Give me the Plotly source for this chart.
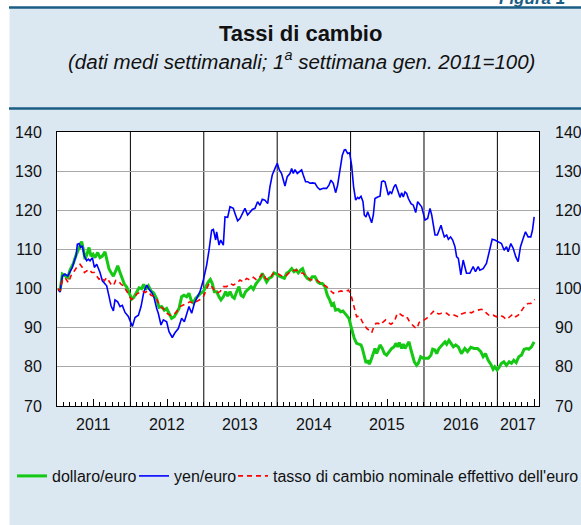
import plotly.graph_objects as go

# ---------------- data (weekly averages, 1st week Jan 2011 = 100) ----------------
# x values are decimal years
dollaro_euro = [
    (2011.018, 100.0), (2011.041, 99.4), (2011.073, 103.7), (2011.109, 103.2), (2011.146, 102.8),
    (2011.177, 104.7), (2011.223, 106.4), (2011.255, 108.3), (2011.282, 109.6), (2011.314, 110.9),
    (2011.336, 112.0), (2011.359, 110.0), (2011.382, 107.5), (2011.409, 108.8), (2011.436, 110.5),
    (2011.463, 108.3), (2011.491, 108.8), (2011.518, 107.9), (2011.554, 109.2), (2011.586, 107.9),
    (2011.618, 108.3), (2011.654, 109.4), (2011.681, 107.5), (2011.709, 105.0), (2011.736, 104.1),
    (2011.768, 103.2), (2011.800, 104.5), (2011.827, 105.8), (2011.859, 104.1), (2011.890, 102.4),
    (2011.918, 101.1), (2011.950, 100.4), (2011.981, 99.0),
    (2012.018, 97.3), (2012.045, 97.7), (2012.081, 98.9), (2012.118, 100.2), (2012.154, 100.0),
    (2012.181, 101.1), (2012.209, 99.8), (2012.245, 100.7), (2012.281, 99.4), (2012.318, 98.9),
    (2012.358, 97.4), (2012.390, 95.2), (2012.426, 95.4), (2012.462, 94.5), (2012.494, 94.9),
    (2012.526, 93.7), (2012.562, 92.4), (2012.598, 92.8), (2012.630, 93.7), (2012.662, 94.9),
    (2012.698, 97.9), (2012.730, 98.3), (2012.766, 97.9), (2012.798, 98.8), (2012.825, 97.2),
    (2012.857, 96.4), (2012.889, 97.5), (2012.925, 98.3), (2012.962, 98.9), (2012.994, 99.2),
    (2013.025, 100.5), (2013.062, 101.7), (2013.089, 102.3), (2013.116, 101.3), (2013.143, 99.2),
    (2013.175, 99.2), (2013.207, 97.9), (2013.234, 97.1), (2013.266, 97.9), (2013.298, 99.2),
    (2013.325, 98.1), (2013.357, 99.2), (2013.389, 97.9), (2013.416, 97.5), (2013.448, 99.2),
    (2013.480, 100.5), (2013.507, 98.3), (2013.538, 97.9), (2013.570, 99.2), (2013.607, 100.0),
    (2013.643, 100.5), (2013.675, 99.8), (2013.707, 101.1), (2013.743, 102.0), (2013.770, 102.6),
    (2013.797, 103.9), (2013.824, 103.0), (2013.856, 101.7), (2013.888, 102.6), (2013.924, 103.0),
    (2013.956, 104.0), (2013.992, 103.7),
    (2014.024, 103.2), (2014.060, 103.0), (2014.097, 102.6), (2014.128, 103.9), (2014.160, 104.3),
    (2014.197, 105.1), (2014.228, 104.3), (2014.260, 104.7), (2014.287, 104.0), (2014.319, 104.7),
    (2014.346, 105.1), (2014.378, 103.4), (2014.410, 102.6), (2014.446, 102.2), (2014.478, 103.0),
    (2014.515, 103.0), (2014.551, 101.7), (2014.583, 101.3), (2014.615, 101.3), (2014.650, 100.5),
    (2014.683, 98.3), (2014.715, 97.1), (2014.742, 95.8), (2014.769, 96.2), (2014.796, 94.5),
    (2014.832, 94.7), (2014.864, 94.1), (2014.896, 94.3), (2014.923, 93.7), (2014.950, 93.2),
    (2014.978, 92.4),
    (2015.000, 90.7), (2015.023, 89.0), (2015.050, 87.3), (2015.082, 86.0), (2015.114, 85.8),
    (2015.142, 85.6), (2015.160, 84.7), (2015.187, 82.6), (2015.210, 81.0), (2015.233, 81.7),
    (2015.255, 80.7), (2015.278, 81.7), (2015.310, 83.4), (2015.332, 84.7), (2015.355, 83.4),
    (2015.378, 84.7), (2015.401, 85.6), (2015.432, 84.7), (2015.460, 83.4), (2015.491, 83.0),
    (2015.523, 83.9), (2015.560, 84.7), (2015.591, 85.1), (2015.619, 86.0), (2015.641, 85.1),
    (2015.664, 86.2), (2015.696, 84.7), (2015.718, 85.8), (2015.741, 84.7), (2015.773, 85.6),
    (2015.796, 86.4), (2015.823, 84.3), (2015.846, 83.0), (2015.868, 81.3), (2015.900, 80.4),
    (2015.923, 80.9), (2015.955, 82.6), (2015.990, 82.2),
    (2016.023, 82.2), (2016.059, 82.2), (2016.095, 83.0), (2016.118, 84.5), (2016.150, 84.3),
    (2016.173, 83.4), (2016.204, 84.7), (2016.232, 85.3), (2016.263, 86.0), (2016.286, 86.4),
    (2016.309, 85.8), (2016.340, 86.8), (2016.368, 86.0), (2016.400, 85.1), (2016.432, 85.6),
    (2016.468, 85.1), (2016.510, 83.4), (2016.556, 84.7), (2016.593, 83.9), (2016.638, 85.0),
    (2016.683, 84.7), (2016.729, 84.7), (2016.774, 83.9), (2016.806, 82.6), (2016.838, 83.4),
    (2016.874, 81.7), (2016.910, 80.7), (2016.942, 79.4), (2016.965, 80.0), (2016.997, 79.2),
    (2017.024, 79.9), (2017.056, 80.9), (2017.088, 81.3), (2017.124, 80.4), (2017.160, 81.3),
    (2017.192, 80.9), (2017.224, 81.7), (2017.256, 81.1), (2017.292, 82.6), (2017.328, 83.0),
    (2017.365, 84.5), (2017.400, 84.7), (2017.428, 84.5), (2017.465, 85.1), (2017.500, 86.4),
]

yen_euro = [
    (2011.018, 99.8), (2011.041, 99.1), (2011.073, 103.2), (2011.109, 103.7), (2011.146, 103.2),
    (2011.177, 104.5), (2011.209, 105.4), (2011.236, 107.1), (2011.259, 108.3), (2011.277, 111.3),
    (2011.300, 111.5), (2011.323, 110.5), (2011.345, 110.9), (2011.373, 108.3), (2011.404, 107.1),
    (2011.427, 107.5), (2011.450, 107.1), (2011.482, 107.9), (2011.509, 105.4), (2011.541, 106.2),
    (2011.586, 104.1), (2011.618, 102.0), (2011.645, 101.4), (2011.677, 100.7), (2011.709, 98.0),
    (2011.736, 95.6), (2011.768, 94.3), (2011.790, 97.1), (2011.827, 96.6), (2011.859, 95.4),
    (2011.890, 95.7), (2011.927, 93.9), (2011.972, 92.9),
    (2012.027, 90.3), (2012.063, 92.6), (2012.109, 93.2), (2012.145, 95.4), (2012.181, 99.0),
    (2012.222, 100.9), (2012.254, 99.8), (2012.290, 99.0), (2012.322, 97.7), (2012.358, 94.9),
    (2012.380, 93.7), (2012.417, 90.7), (2012.449, 92.0), (2012.494, 91.5), (2012.526, 89.0),
    (2012.571, 87.5), (2012.607, 88.7), (2012.653, 89.8), (2012.698, 92.4), (2012.735, 91.5),
    (2012.766, 93.7), (2012.798, 95.4), (2012.835, 93.7), (2012.871, 96.2), (2012.903, 97.5),
    (2012.948, 99.2), (2012.994, 102.2),
    (2013.039, 106.0), (2013.071, 109.8), (2013.107, 114.9), (2013.130, 115.1), (2013.162, 112.4),
    (2013.175, 114.5), (2013.207, 111.1), (2013.230, 112.4), (2013.266, 111.1), (2013.289, 118.3),
    (2013.325, 118.2), (2013.357, 120.9), (2013.402, 120.5), (2013.425, 119.2), (2013.461, 117.3),
    (2013.493, 117.9), (2013.538, 119.6), (2013.561, 120.5), (2013.597, 118.8), (2013.629, 119.6),
    (2013.661, 120.2), (2013.697, 120.5), (2013.733, 122.2), (2013.765, 121.3), (2013.797, 122.8),
    (2013.833, 122.6), (2013.870, 121.7), (2013.901, 126.0), (2013.933, 129.0), (2013.970, 130.7),
    (2014.001, 132.0), (2014.029, 130.3), (2014.060, 129.4), (2014.106, 126.2), (2014.137, 128.6),
    (2014.174, 129.4), (2014.197, 130.7), (2014.219, 129.4), (2014.242, 130.4), (2014.274, 129.4),
    (2014.301, 129.8), (2014.333, 130.3), (2014.355, 129.0), (2014.387, 127.3), (2014.415, 127.3),
    (2014.446, 126.9), (2014.478, 127.0), (2014.515, 126.9), (2014.551, 125.8), (2014.583, 125.3),
    (2014.628, 125.6), (2014.673, 125.6), (2014.705, 126.4), (2014.732, 127.7), (2014.764, 126.9),
    (2014.796, 124.5), (2014.823, 126.4), (2014.855, 130.3), (2014.887, 134.1), (2014.914, 135.4),
    (2014.932, 135.5), (2014.960, 134.5), (2014.987, 134.7),
    (2015.014, 131.5), (2015.041, 126.0), (2015.069, 122.6), (2015.096, 123.3), (2015.114, 123.0),
    (2015.142, 123.6), (2015.169, 122.2), (2015.187, 118.8), (2015.210, 118.3), (2015.233, 119.6),
    (2015.260, 118.2), (2015.287, 116.8), (2015.310, 118.8), (2015.332, 123.0), (2015.369, 123.4),
    (2015.401, 123.6), (2015.423, 127.3), (2015.446, 127.5), (2015.469, 127.3), (2015.491, 125.6),
    (2015.514, 123.9), (2015.537, 124.7), (2015.560, 124.3), (2015.591, 126.0), (2015.614, 126.6),
    (2015.641, 125.1), (2015.673, 123.3), (2015.696, 124.5), (2015.718, 123.4), (2015.741, 124.7),
    (2015.764, 124.3), (2015.787, 123.0), (2015.823, 121.7), (2015.855, 121.3), (2015.887, 119.4),
    (2015.914, 122.2), (2015.946, 121.3), (2015.968, 120.9), (2015.991, 119.2),
    (2016.014, 117.5), (2016.050, 117.9), (2016.082, 120.5), (2016.105, 118.8), (2016.127, 115.8),
    (2016.150, 113.7), (2016.182, 113.7), (2016.204, 114.9), (2016.232, 116.2), (2016.250, 114.9),
    (2016.277, 113.2), (2016.309, 113.7), (2016.332, 112.6), (2016.363, 113.2), (2016.391, 112.4),
    (2016.422, 110.7), (2016.445, 108.1), (2016.468, 107.7), (2016.502, 103.5), (2016.534, 107.3),
    (2016.579, 103.9), (2016.624, 103.9), (2016.670, 105.6), (2016.702, 104.3), (2016.738, 105.6),
    (2016.761, 104.7), (2016.806, 105.1), (2016.851, 106.4), (2016.897, 109.8), (2016.929, 112.6),
    (2016.965, 112.4),
    (2017.010, 112.0), (2017.056, 111.5), (2017.092, 109.8), (2017.124, 110.7), (2017.147, 109.4),
    (2017.183, 111.5), (2017.215, 110.3), (2017.251, 108.1), (2017.283, 106.9), (2017.315, 110.7),
    (2017.351, 112.8), (2017.383, 114.5), (2017.419, 113.2), (2017.455, 113.2), (2017.478, 114.9),
    (2017.501, 118.3),
]

tasso_effettivo = [
    (2011.018, 100.0), (2011.041, 99.4), (2011.073, 102.0), (2011.109, 102.8), (2011.155, 101.5),
    (2011.200, 103.7), (2011.236, 104.5), (2011.282, 105.8), (2011.314, 106.2), (2011.345, 105.4),
    (2011.373, 104.1), (2011.404, 104.5), (2011.436, 104.9), (2011.473, 104.1), (2011.509, 104.1),
    (2011.541, 103.2), (2011.572, 102.4), (2011.609, 102.8), (2011.645, 102.0), (2011.677, 102.8),
    (2011.709, 102.0), (2011.736, 101.1), (2011.768, 100.7), (2011.800, 102.1), (2011.836, 102.0),
    (2011.872, 101.1), (2011.904, 100.7), (2011.936, 99.8), (2011.972, 98.6),
    (2012.009, 97.3), (2012.045, 97.4), (2012.085, 98.6), (2012.131, 99.1), (2012.163, 99.4),
    (2012.200, 99.0), (2012.235, 99.4), (2012.281, 98.3), (2012.318, 98.0), (2012.358, 97.4),
    (2012.403, 95.4), (2012.449, 94.9), (2012.494, 93.7), (2012.539, 93.2), (2012.585, 93.2),
    (2012.630, 94.1), (2012.676, 95.4), (2012.721, 95.8), (2012.766, 96.2), (2012.812, 96.6),
    (2012.857, 96.2), (2012.903, 96.6), (2012.948, 97.2), (2012.994, 97.9),
    (2013.039, 100.0), (2013.071, 101.3), (2013.107, 100.5), (2013.143, 99.6), (2013.175, 98.9),
    (2013.221, 99.2), (2013.266, 100.5), (2013.311, 100.5), (2013.357, 101.3), (2013.402, 100.9),
    (2013.448, 101.3), (2013.493, 102.2), (2013.538, 101.7), (2013.584, 102.6), (2013.629, 102.2),
    (2013.675, 102.9), (2013.720, 102.2), (2013.765, 103.0), (2013.810, 103.9), (2013.842, 102.6),
    (2013.879, 102.3), (2013.915, 103.0), (2013.947, 103.9), (2013.992, 104.0),
    (2014.038, 103.4), (2014.083, 103.0), (2014.128, 103.4), (2014.174, 104.3), (2014.219, 104.6),
    (2014.265, 104.7), (2014.310, 104.0), (2014.355, 103.9), (2014.401, 103.0), (2014.446, 102.3),
    (2014.492, 102.2), (2014.537, 102.2), (2014.583, 101.5), (2014.628, 101.1), (2014.673, 100.5),
    (2014.719, 99.6), (2014.764, 98.8), (2014.796, 99.2), (2014.832, 99.2), (2014.869, 99.4),
    (2014.900, 99.2), (2014.932, 99.2), (2014.969, 99.6),
    (2015.000, 98.8), (2015.023, 97.1), (2015.041, 95.4), (2015.060, 93.7), (2015.082, 92.8),
    (2015.114, 93.0), (2015.128, 92.8), (2015.160, 91.5), (2015.187, 90.7), (2015.219, 89.8),
    (2015.251, 89.4), (2015.287, 88.7), (2015.319, 90.3), (2015.346, 91.1), (2015.378, 91.1),
    (2015.410, 90.7), (2015.446, 91.5), (2015.478, 92.0), (2015.514, 91.3), (2015.550, 90.9),
    (2015.596, 91.5), (2015.637, 93.7), (2015.673, 93.5), (2015.709, 93.0), (2015.741, 93.2),
    (2015.778, 92.4), (2015.809, 91.3), (2015.841, 90.7), (2015.877, 90.1), (2015.905, 89.8),
    (2015.932, 91.3), (2015.968, 91.8),
    (2016.005, 92.0), (2016.036, 92.4), (2016.068, 93.0), (2016.105, 93.7), (2016.136, 94.3),
    (2016.173, 93.7), (2016.204, 93.5), (2016.241, 93.7), (2016.277, 93.5), (2016.309, 93.7),
    (2016.340, 93.2), (2016.377, 93.5), (2016.413, 93.2), (2016.465, 92.8), (2016.511, 93.5),
    (2016.556, 93.7), (2016.602, 94.1), (2016.647, 93.8), (2016.692, 94.3), (2016.738, 94.5),
    (2016.783, 94.7), (2016.820, 94.5), (2016.851, 93.7), (2016.897, 93.0), (2016.942, 93.2),
    (2016.988, 92.8),
    (2017.033, 93.2), (2017.078, 92.8), (2017.124, 92.1), (2017.169, 92.8), (2017.215, 93.5),
    (2017.251, 92.8), (2017.283, 93.2), (2017.319, 94.1), (2017.351, 94.9), (2017.383, 95.8),
    (2017.419, 96.2), (2017.455, 96.2), (2017.487, 96.9), (2017.510, 97.2),
]

series_names = ["dollaro/euro", "yen/euro", "tasso di cambio nominale effettivo dell'euro"]
year_labels = ["2011", "2012", "2013", "2014", "2015", "2016", "2017"]
year_label_pos = [2011.5, 2012.5, 2013.5, 2014.5, 2015.5, 2016.5, 2017.28]
mid_year_ticks = [2011.5, 2012.5, 2013.5, 2014.5, 2015.5, 2016.5, 2017.5]
year_bounds = [2012, 2013, 2014, 2015, 2016, 2017]
y_ticks = [70, 80, 90, 100, 110, 120, 130, 140]

title_text = "<b>Tassi di cambio</b>"
subtitle_text = "<i>(dati medi settimanali; 1<sup>a</sup> settimana gen. 2011=100)</i>"

# ---------------- styling ----------------
W, H = 581, 525
L, R, T, B = 57, 42, 132, 119
X_RANGE = [2011.0, 2017.567]
Y_RANGE = [70, 140]
BG = "#dce8f1"
DARK = "#1b5e84"
FONT = "Liberation Sans, Arial, Helvetica, sans-serif"
LEGEND_TEXT_X = [52, 174, 273]   # pixel where each legend label starts


def py2paper(py):
    return (H - B - py) / (H - T - B)


def px2paper(px):
    return (px - L) / (W - L - R)


fig = go.Figure()
fig.add_trace(go.Scatter(
    x=[p[0] for p in dollaro_euro], y=[p[1] for p in dollaro_euro],
    name=series_names[0], mode="lines", legend="legend",
    line=dict(color="#14c814", width=3), xaxis="x", yaxis="y"))
fig.add_trace(go.Scatter(
    x=[p[0] for p in yen_euro], y=[p[1] for p in yen_euro],
    name=series_names[1], mode="lines", legend="legend2",
    line=dict(color="#0000ff", width=1.6), xaxis="x", yaxis="y"))
fig.add_trace(go.Scatter(
    x=[p[0] for p in tasso_effettivo], y=[p[1] for p in tasso_effettivo],
    name=series_names[2], mode="lines", legend="legend3",
    line=dict(color="#ff0000", width=1.6, dash="5px,4px"), xaxis="x", yaxis="y2"))

# year separators
for yb in year_bounds:
    fig.add_shape(type="line", xref="x", yref="paper", x0=yb, x1=yb, y0=0, y1=1,
                  line=dict(color="black", width=1), layer="below")

# white page strips and header rules
fig.add_shape(type="rect", xref="paper", yref="paper",
              x0=px2paper(-5), x1=px2paper(9.5), y0=py2paper(H + 5), y1=py2paper(-5),
              fillcolor="white", line=dict(width=0), layer="below")
fig.add_shape(type="rect", xref="paper", yref="paper",
              x0=px2paper(-5), x1=px2paper(W + 5), y0=py2paper(7), y1=py2paper(-5),
              fillcolor="white", line=dict(width=0), layer="below")
for ly in (7.5, 108.5):
    fig.add_shape(type="line", xref="paper", yref="paper",
                  x0=px2paper(9), x1=px2paper(W + 5), y0=py2paper(ly), y1=py2paper(ly),
                  line=dict(color=DARK, width=2.5), layer="below")

# titles
fig.add_annotation(text=title_text, xref="paper", yref="paper",
                   x=px2paper(300), y=py2paper(33.5), xanchor="center", yanchor="middle",
                   showarrow=False, font=dict(size=22, color="#111111", family=FONT))
fig.add_annotation(text=subtitle_text, xref="paper", yref="paper",
                   x=px2paper(301), y=py2paper(60.5), xanchor="center", yanchor="middle",
                   showarrow=False, font=dict(size=20.5, color="#111111", family=FONT))
fig.add_annotation(text="<b><i>Figura 1</i></b>", xref="paper", yref="paper",
                   x=px2paper(497), y=py2paper(10), xanchor="left", yanchor="bottom",
                   showarrow=False, font=dict(size=17, color=DARK, family=FONT))

# year labels
for lab, pos in zip(year_labels, year_label_pos):
    fig.add_annotation(text=lab, x=pos, xref="x", y=py2paper(424), yref="paper",
                       xanchor="center", yanchor="middle", showarrow=False,
                       font=dict(size=16, color="#111111", family=FONT))


def legend_box(text_px):
    return dict(orientation="h", x=px2paper(text_px - 40), y=py2paper(476),
                xanchor="left", yanchor="middle", bgcolor="rgba(0,0,0,0)",
                font=dict(size=16, family=FONT, color="#111111"),
                itemwidth=30, borderwidth=0)


axis_font = dict(size=16, color="#111111", family=FONT)
fig.update_layout(
    width=W, height=H,
    margin=dict(l=L, r=R, t=T, b=B, autoexpand=False),
    paper_bgcolor=BG, plot_bgcolor="white",
    font=dict(family=FONT, color="#111111"),
    showlegend=True,
    legend=legend_box(LEGEND_TEXT_X[0]),
    legend2=legend_box(LEGEND_TEXT_X[1]),
    legend3=legend_box(LEGEND_TEXT_X[2]),
    xaxis=dict(range=X_RANGE, tickmode="array", tickvals=mid_year_ticks,
               showticklabels=False, ticks="inside", ticklen=7, tickcolor="black",
               showgrid=False, zeroline=False, showline=True, mirror=True,
               linecolor="black", linewidth=1,
               minor=dict(tickmode="linear", tick0=2011, dtick=1 / 12, ticks="inside",
                          ticklen=4, tickcolor="black", showgrid=False)),
    yaxis=dict(range=Y_RANGE, tickmode="array", tickvals=y_ticks, ticks="",
               showgrid=True, gridcolor="#a8a8a8", gridwidth=1, zeroline=False,
               showline=True, mirror=True, linecolor="black", linewidth=1,
               tickfont=axis_font, ticklabelstandoff=11),
    yaxis2=dict(range=Y_RANGE, overlaying="y", side="right", tickmode="array",
                tickvals=y_ticks, ticks="", showgrid=False, zeroline=False,
                showline=False, tickfont=axis_font, ticklabelstandoff=15),
)

fig.write_html("out.html", config={"displayModeBar": False},
               post_script="document.body.style.margin='0px';")
